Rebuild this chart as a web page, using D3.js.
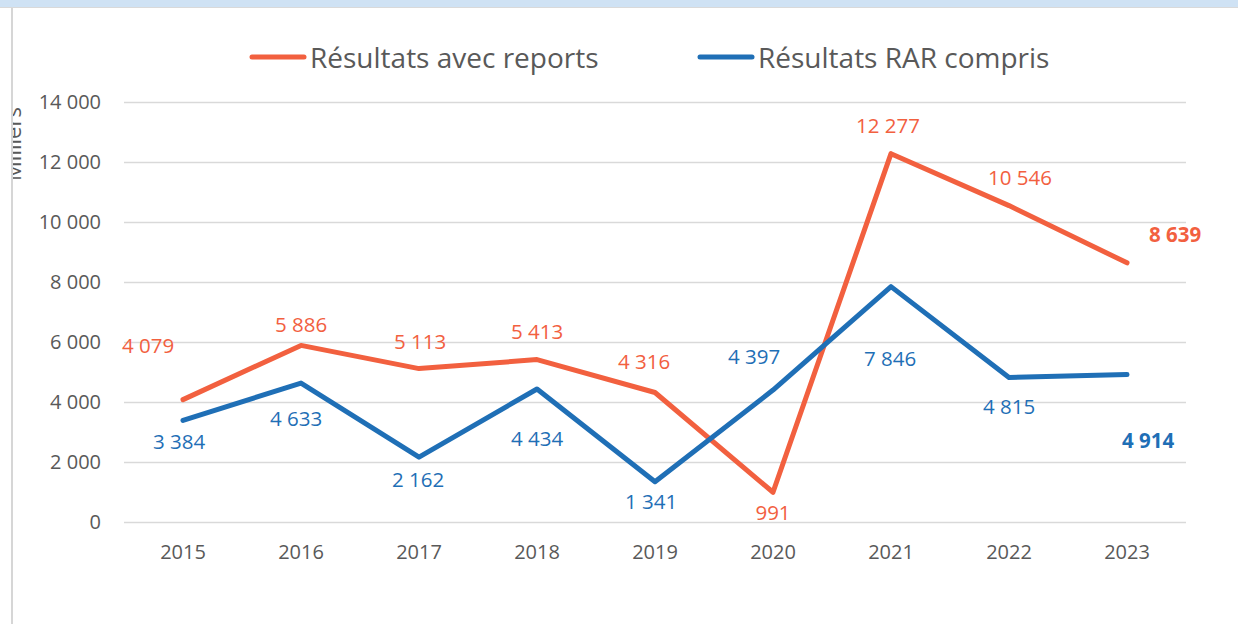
<!DOCTYPE html>
<html>
<head>
<meta charset="utf-8">
<script src="https://cdn.jsdelivr.net/npm/d3@7"></script>
<style>
  body { margin: 0; background: #fff; }
  svg { display: block; }
  svg text { font-family: "Open Sans", sans-serif; }
</style>
</head>
<body>
<svg id="chart"></svg>
<script>
// Data
const years = ["2015", "2016", "2017", "2018", "2019", "2020", "2021", "2022", "2023"];
const reports = [4079, 5886, 5113, 5413, 4316, 991, 12277, 10546, 8639];
const rarCompris = [3384, 4633, 2162, 4434, 1341, 4397, 7846, 4815, 4914];
const yTicks = [0, 2000, 4000, 6000, 8000, 10000, 12000, 14000];

// Label placement offsets (pixels, relative to the point)
const reportsLabelDx = [-35, 0, 1, 0, -11, 0, -3, 11, 48];
const reportsLabelDy = [-55, -21, -28, -29, -32, 20, -29, -29, -29];
const rarLabelDx = [-4, -5, -1, 0, -4, -19, -1, 0, 21];
const rarLabelDy = [21, 35, 22, 49, 19, -34, 71, 28, 65];

const width = 1238;
const height = 624;
const margin = { top: 102, right: 52, bottom: 102, left: 124 };

const orange = "#F2603F";
const blue = "#1F6FB6";
const fmt = v => d3.format(",")(v).replace(/,/g, " ");

const svg = d3.select("#chart")
  .attr("width", width)
  .attr("height", height);

// Frame decorations
svg.append("rect").attr("x", 0).attr("y", 0).attr("width", width).attr("height", 7).attr("fill", "#CFE2F4");
svg.append("line").attr("x1", 0).attr("x2", width).attr("y1", 7.5).attr("y2", 7.5).attr("stroke", "#D9D9D9");
svg.append("line").attr("x1", 12).attr("x2", 12).attr("y1", 8).attr("y2", height).attr("stroke", "#D6D6D6").attr("stroke-width", 2);

// Scales
const x = d3.scaleBand()
  .domain(years)
  .range([margin.left, width - margin.right]);

const y = d3.scaleLinear()
  .domain([0, 14000])
  .range([height - margin.bottom, margin.top]);

const cx = d => x(d) + x.bandwidth() / 2;

// Gridlines + y axis labels
const yAxis = d3.axisLeft(y)
  .tickValues(yTicks)
  .tickSize(-(width - margin.left - margin.right))
  .tickPadding(23)
  .tickFormat(fmt);

const gy = svg.append("g")
  .attr("transform", `translate(${margin.left},0)`)
  .call(yAxis)
  .attr("font-family", null);
gy.select(".domain").remove();
gy.selectAll(".tick line").attr("stroke", "#D9D9D9").attr("stroke-width", 1.5);
gy.selectAll(".tick text").attr("fill", "#595959").style("font-size", "20px");

// X axis labels
const xAxis = d3.axisBottom(x).tickSize(0).tickPadding(23);
const gx = svg.append("g")
  .attr("transform", `translate(0,${height - margin.bottom})`)
  .call(xAxis)
  .attr("font-family", null);
gx.select(".domain").remove();
gx.selectAll(".tick text").attr("fill", "#595959").style("font-size", "20px");

// "Milliers" axis title, clipped by the frame line
svg.append("clipPath").attr("id", "clipL")
  .append("rect").attr("x", 13).attr("y", 0).attr("width", 40).attr("height", height);
svg.append("g")
  .attr("clip-path", "url(#clipL)")
  .append("text")
  .attr("transform", "translate(21,144) rotate(-90)")
  .attr("text-anchor", "middle")
  .attr("fill", "#595959")
  .style("font-size", "22px")
  .text("Milliers");

// Lines
const line = d3.line()
  .x((d, i) => cx(years[i]))
  .y(d => y(d));

[[reports, orange], [rarCompris, blue]].forEach(([vals, col]) => {
  svg.append("path")
    .datum(vals)
    .attr("d", line)
    .attr("fill", "none")
    .attr("stroke", col)
    .attr("stroke-width", 5)
    .attr("stroke-linecap", "round")
    .attr("stroke-linejoin", "round");
});

// Data labels
function labels(vals, dxs, dys, col) {
  svg.append("g").selectAll("text")
    .data(vals)
    .enter()
    .append("text")
    .attr("x", (d, i) => cx(years[i]) + dxs[i])
    .attr("y", (d, i) => y(d) + dys[i])
    .attr("text-anchor", "middle")
    .attr("dominant-baseline", "central")
    .attr("fill", col)
    .style("font-size", "20.5px")
    .style("font-weight", (d, i) => i === vals.length - 1 ? "bold" : "normal")
    .text(fmt);
}
labels(reports, reportsLabelDx, reportsLabelDy, orange);
labels(rarCompris, rarLabelDx, rarLabelDy, blue);

// Legend
const legend = [
  { name: "Résultats avec reports", color: orange, x: 252 },
  { name: "Résultats RAR compris", color: blue, x: 700 }
];
const lg = svg.append("g").selectAll("g").data(legend).enter().append("g");
lg.append("line")
  .attr("x1", d => d.x).attr("x2", d => d.x + 52)
  .attr("y1", 57).attr("y2", 57)
  .attr("stroke", d => d.color).attr("stroke-width", 5).attr("stroke-linecap", "round");
lg.append("text")
  .attr("x", d => d.x + 58).attr("y", 57)
  .attr("dominant-baseline", "central")
  .attr("fill", "#595959")
  .style("font-size", "28px")
  .text(d => d.name);
</script>
</body>
</html>
